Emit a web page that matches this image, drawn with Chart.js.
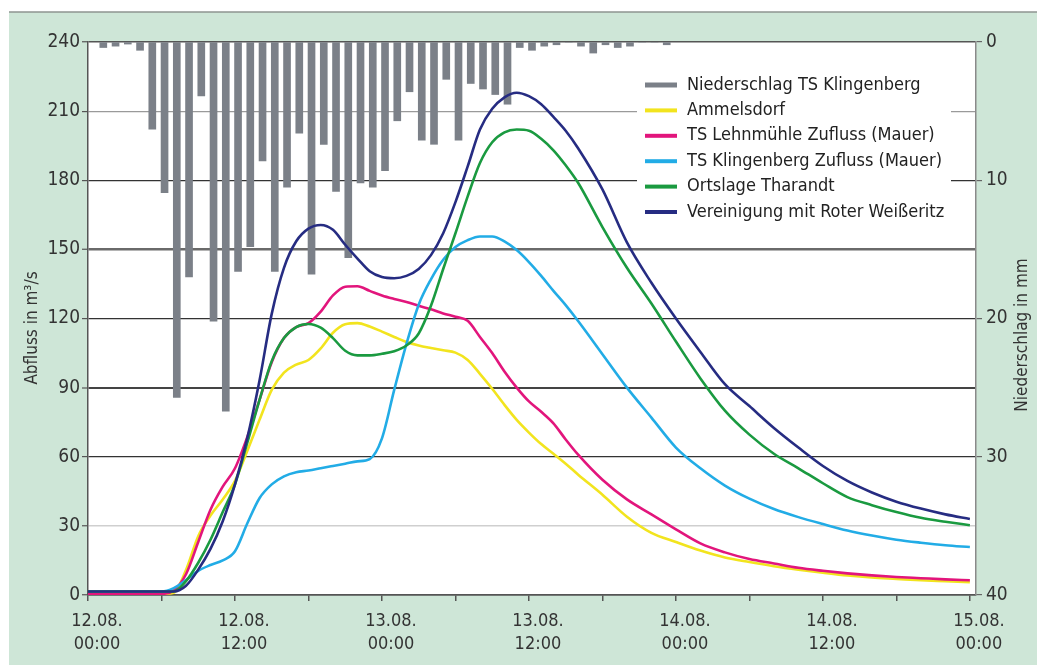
<!DOCTYPE html>
<html><head><meta charset="utf-8">
<script src="https://cdn.jsdelivr.net/npm/chart.js@4.4.1/dist/chart.umd.min.js"></script>
<style>html,body{margin:0;padding:0;background:#fff;overflow:hidden}#wrap{width:1037px;height:665px}</style>
</head><body><div id="wrap"><canvas id="c" width="1037" height="665"></canvas></div>
<script>
// ---------- DATA ----------
const hours = [0,6,7,8,9,10,11,12,13,14,15,16,17,18,19,20,21,22,23,24,25,26,27,28,29,30,31,32,33,34,35,36,37,38,39,40,42,44,46,48,50,52,54,56,58,60,62,64,66,68,70,72];
const ammelsdorf = [0.5,0.5,1,10.8,25.5,34.5,41.5,49.5,62.5,76,89,96.5,100,102,107,113.8,117.5,118,116.5,114.3,112,109.8,108.3,107.2,106.2,105.2,102,96,89.5,82.5,76,70.5,65.5,61.3,57,52.3,43.5,34,27,23,19.3,16.3,14.3,12.5,11,9.7,8.5,7.6,7,6.4,6,5.6];
const lehnmuehle = [0.5,0.5,2,9,23,37,47,55,68.5,84.6,101,111.5,116.3,118,123,130,133.8,134,132,130,128.5,127.2,125.5,124,122.2,120.8,119,112,105,97,90,84,79.5,74.5,67.5,61,50,41.5,35,28.5,22.4,18.5,15.6,13.7,11.8,10.5,9.4,8.5,7.8,7.3,6.8,6.4];
const klingenberg = [1.5,1.5,3,6.5,10.5,13,15,19,31,42,48,51.5,53.3,54,55,56,57,58,59,68,89,109,126,137,145.5,151,154,155.6,155.6,153.5,149.7,144.5,138.5,132,125.8,119,104.5,90,77,64,55,47.5,41.8,37.3,33.8,30.8,28,25.8,24,22.7,21.6,20.8];
const tharandt = [1.5,1.5,1.5,6,14,24,36,48,66,84.6,101.5,111.5,116.3,117.6,116,111.5,106,104,104,104.7,105.8,108.3,113.5,125.5,141.5,157,173,187.5,196.5,200.8,202,201.5,198,193,186.5,179,159.7,142,126.5,110,94,80,69.6,61.3,55,48.5,42.5,39,36,33.5,31.8,30.3];
const vereinigung = [1.5,1.5,1.5,4,11,20,32,48,68,93,122,142,153.5,159,160.6,158.5,152,146,140.5,138,137.5,138.5,141.5,147.5,157,170.5,186,202,211,216,218,216.5,213,207.5,201.5,194,176,153,135.5,120,105.5,91.5,82,72.5,64,56,49.5,44.5,40.5,37.5,35,33];

const rainHours = [1,2,3,4,5,6,7,8,9,10,11,12,13,14,15,16,17,18,19,20,21,22,23,24,25,26,27,28,29,30,31,32,33,34,35,36,37,38,39,40,41,42,43,44,45,46,47];
const rainMM = [0.4,0.3,0.15,0.6,6.3,10.9,25.7,17.0,3.9,20.2,26.7,16.6,14.8,8.6,16.6,10.5,6.6,16.8,7.4,10.8,15.6,10.2,10.5,9.3,5.7,3.6,7.1,7.4,2.7,7.1,3.0,3.4,3.8,4.5,0.4,0.6,0.3,0.2,0,0.3,0.8,0.2,0.4,0.3,0,0,0.2];
const RAIN_TIME_OFFSET = 0.25; // hours

const xTickHours = [0,12,24,36,48,60,72];
const xTickLabels = [['12.08.','00:00'],['12.08.','12:00'],['13.08.','00:00'],['13.08.','12:00'],['14.08.','00:00'],['14.08.','12:00'],['15.08.','00:00']];

const seriesNames = ['Niederschlag TS Klingenberg','Ammelsdorf','TS Lehnmühle Zufluss (Mauer)','TS Klingenberg Zufluss (Mauer)','Ortslage Tharandt','Vereinigung mit Roter Weißeritz'];
const seriesColors = ['#7b8088','#f2e41e','#e2157c','#22ace6','#1a9a40','#262c82'];
const leftTitle = 'Abfluss in m³/s';
const rightTitle = 'Niederschlag in mm';

// ---------- STYLE ----------
const FONT = "'Liberation Sans Narrow','DejaVu Sans Condensed','Arial Narrow',sans-serif";
const gridStyle = {0:['#555',1.5],30:['#cfcfcf',1.5],60:['#333',1.2],90:['#444',2],120:['#333',1.2],150:['#6a6a6a',2.5],180:['#333',1.2],210:['#9a9a9a',1.2],240:['#555',1.5]};

function pts(vals){ return hours.map((h,i)=>({x:h,y:vals[i]})); }
function lineDs(idx, vals, order){
  return {type:'line', label:seriesNames[idx], data:pts(vals), borderColor:seriesColors[idx], backgroundColor:seriesColors[idx],
    borderWidth:2.6, pointRadius:0, fill:false, cubicInterpolationMode:'monotone', yAxisID:'y', order:order};
}

const bgPlugin = {
  id:'bg',
  beforeDraw(chart){
    const ctx=chart.ctx, W=chart.width, H=chart.height, a=chart.chartArea;
    ctx.save();
    ctx.fillStyle='#ffffff'; ctx.fillRect(0,0,W,H);
    ctx.fillStyle='#cee6d7'; ctx.fillRect(9,12,W-9,H-12);
    ctx.strokeStyle='#8e9590'; ctx.lineWidth=1.5;
    ctx.beginPath(); ctx.moveTo(9,12); ctx.lineTo(W,12); ctx.stroke();
    ctx.fillStyle='#ffffff'; ctx.fillRect(a.left,a.top,a.right-a.left,a.bottom-a.top);
    ctx.restore();
  }
};

const legendPlugin = {
  id:'boxLegend',
  beforeDatasetsDraw(chart){
    const ctx=chart.ctx;
    ctx.save();
    ctx.fillStyle='#ffffff';
    ctx.fillRect(637,55,314,181);
    ctx.font = "18px "+FONT;
    ctx.textBaseline='middle';
    seriesNames.forEach((n,i)=>{
      const y = 85 + i*25.4;
      ctx.strokeStyle = seriesColors[i];
      ctx.lineWidth = i===0 ? 5 : 4;
      ctx.beginPath(); ctx.moveTo(645,y); ctx.lineTo(677,y); ctx.stroke();
      ctx.fillStyle='#222';
      ctx.fillText(n,687,y);
    });
    ctx.restore();
  }
};

const titlePlugin = {
  id:'axisTitles',
  afterDraw(chart){
    const ctx=chart.ctx;
    ctx.save();
    ctx.font="17px "+FONT; ctx.fillStyle='#333'; ctx.textAlign='center'; ctx.textBaseline='middle';
    ctx.translate(33,328); ctx.rotate(-Math.PI/2); ctx.fillText(leftTitle,0,0);
    ctx.restore();
    ctx.save();
    ctx.font="17px "+FONT; ctx.fillStyle='#333'; ctx.textAlign='center'; ctx.textBaseline='middle';
    ctx.translate(1023,335); ctx.rotate(-Math.PI/2); ctx.fillText(rightTitle,0,0);
    ctx.restore();
  }
};

const tickFont = {family:FONT, size:19};

new Chart(document.getElementById('c'), {
  type:'line',
  data:{
    datasets:[
      {type:'bar', label:seriesNames[0], data:rainHours.map((h,i)=>({x:h+RAIN_TIME_OFFSET,y:rainMM[i]})),
       backgroundColor:seriesColors[0], borderWidth:0, barThickness:7, yAxisID:'y2', order:10, grouped:false},
      lineDs(1, ammelsdorf, 5),
      lineDs(2, lehnmuehle, 4),
      lineDs(3, klingenberg, 3),
      lineDs(4, tharandt, 2),
      lineDs(5, vereinigung, 1)
    ]
  },
  options:{
    responsive:false, animation:false, devicePixelRatio:1,
    layout:{padding:{top:42,left:0,right:0,bottom:0}},
    plugins:{legend:{display:false}, tooltip:{enabled:false}},
    scales:{
      x:{type:'linear', position:'bottom', min:0, max:72.5, offset:false,
        afterFit:s=>{s.height=70;},
        grid:{drawOnChartArea:false, drawTicks:true, tickLength:6, color:'#555', lineWidth:1.5, offset:false},
        border:{display:true, color:'#555', width:1.5},
        ticks:{stepSize:6, includeBounds:false, autoSkip:false, maxRotation:0, minRotation:0, labelOffset:9, padding:9,
          font:{family:FONT,size:18,lineHeight:1.28}, color:'#333',
          callback:(v)=>{const k=xTickHours.indexOf(v); return k>=0?xTickLabels[k]:'';}}
      },
      y:{position:'left', min:0, max:240,
        afterFit:s=>{s.width=88;},
        ticks:{stepSize:30, padding:2, font:tickFont, color:'#333'},
        grid:{color:c=>(gridStyle[c.tick.value]||['#555',1])[0], lineWidth:c=>(gridStyle[c.tick.value]||['#555',1])[1],
              tickLength:6, tickColor:'#555', tickWidth:1.2},
        border:{display:true, color:'#555', width:1.5}
      },
      y2:{position:'right', min:0, max:40, reverse:true,
        afterFit:s=>{s.width=61;},
        ticks:{stepSize:10, padding:4, font:tickFont, color:'#333'},
        grid:{drawOnChartArea:false, tickLength:6, color:'#666', lineWidth:1.2},
        border:{display:true, color:'#8a8a8a', width:1.5}
      }
    }
  },
  plugins:[bgPlugin, legendPlugin, titlePlugin]
});
</script></body></html>
